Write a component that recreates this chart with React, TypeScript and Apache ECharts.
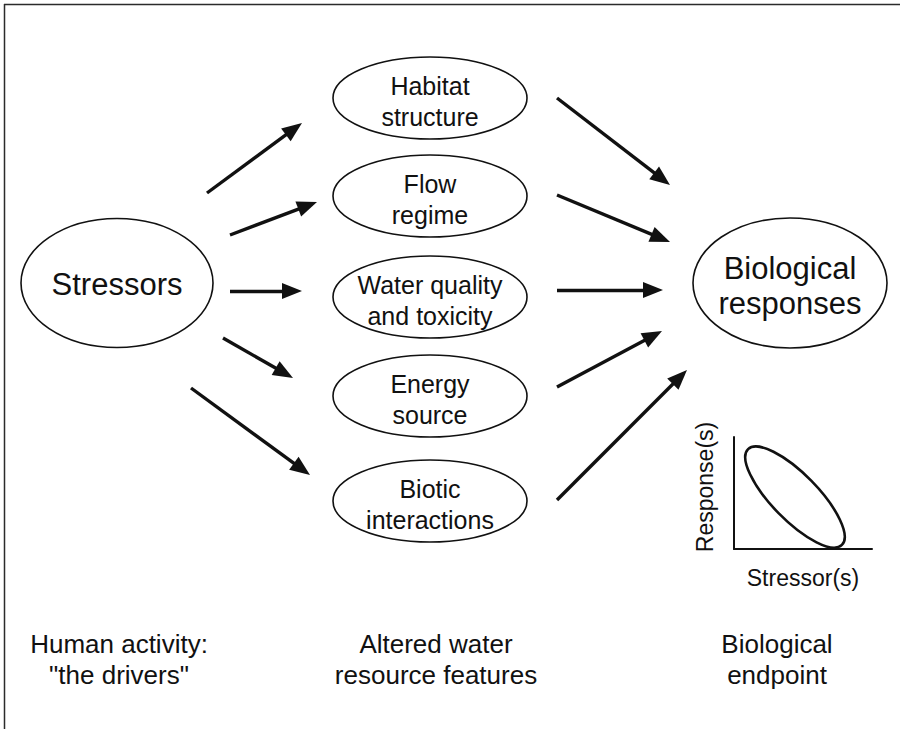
import React, { useEffect, useRef } from 'react';
import * as echarts from 'echarts';

// ---- diagram content ----
const driverNode = 'Stressors';
const driverAt = [117, 283];

const featureNodes = [
  'Habitat\nstructure',
  'Flow\nregime',
  'Water quality\nand toxicity',
  'Energy\nsource',
  'Biotic\ninteractions',
];
const featureColumn = 430;
const featureRows = [98, 196, 297, 396, 501];

const endpointNode = 'Biological\nresponses';
const endpointAt = [790, 283];

const driverArrowTails = [[207, 193], [230, 235], [230, 291], [223, 338], [191, 388]];
const driverArrowTips = [[302, 123], [317, 202], [302, 291], [293, 378], [310, 475]];
const responseArrowTails = [[557, 98], [557, 195], [557, 290], [557, 387], [557, 500]];
const responseArrowTips = [[670, 185], [670, 242], [663, 290], [662, 331], [687, 370]];

const stageLabels = ['Human activity:\n"the drivers"', 'Altered water\nresource features', 'Biological\nendpoint'];
const stageColumns = [119, 436, 777];
const stageRow = 659;

const insetXName = 'Stressor(s)';
const insetYName = 'Response(s)';
const insetEnvelope = [4.42, 4.64];

// ---- styles ----
const FONT = '"Liberation Sans", Arial, Helvetica, sans-serif';
const INK = '#111111';
const HEAD_W = 16;
const HEAD_L = 20;

function arrowData(tails: number[][], tips: number[][]) {
  return tails.map((t, i) => {
    const tip = tips[i];
    const dx = tip[0] - t[0];
    const dy = tip[1] - t[1];
    const len = Math.sqrt(dx * dx + dy * dy);
    const end = [tip[0] - (dx / len) * (HEAD_L / 2), tip[1] - (dy / len) * (HEAD_L / 2)];
    return { coords: [t, end] };
  });
}

function nodeSeries(name: string, labels: string[], points: number[][], rx: number, ry: number, fontSize: number, lineHeight: number, dy: number) {
  return {
    type: 'custom',
    name,
    coordinateSystem: 'cartesian2d',
    xAxisIndex: 0,
    yAxisIndex: 0,
    data: points,
    silent: true,
    renderItem: (params: any, api: any) => {
      const p = api.coord([api.value(0), api.value(1)]);
      return {
        type: 'group',
        children: [
          {
            type: 'ellipse',
            shape: { cx: p[0], cy: p[1], rx, ry },
            style: { fill: '#ffffff', stroke: INK, lineWidth: 1.6 },
          },
          {
            type: 'text',
            x: p[0],
            y: p[1] + dy,
            style: {
              text: labels[params.dataIndex],
              fontSize,
              lineHeight,
              fontFamily: FONT,
              fill: INK,
              align: 'center',
              verticalAlign: 'middle',
            },
          },
        ],
      };
    },
  };
}

function arrowSeries(name: string, data: any[]) {
  return {
    type: 'lines',
    name,
    coordinateSystem: 'cartesian2d',
    xAxisIndex: 0,
    yAxisIndex: 0,
    silent: true,
    symbol: ['none', 'triangle'],
    symbolSize: [[HEAD_W, HEAD_L], [HEAD_W, HEAD_L]],
    lineStyle: { color: INK, width: 3.4, opacity: 1, curveness: 0 },
    itemStyle: { color: INK },
    data,
  };
}

export default function App() {
  const ref = useRef<HTMLDivElement>(null);

  useEffect(() => {
    if (!ref.current) return;
    const chart = echarts.init(ref.current, null, { renderer: 'svg' });
    const hiddenAxis = {
      show: false,
      splitLine: { show: false },
      axisLine: { show: false },
      axisTick: { show: false },
      axisLabel: { show: false },
    };
    const option: any = {
      animation: false,
      backgroundColor: '#ffffff',
      grid: [
        { left: 0, top: 0, right: 0, bottom: 0 },
        { left: 734, top: 437, width: 138, height: 112 },
      ],
      xAxis: [
        { type: 'value', min: 0, max: 900, gridIndex: 0, ...hiddenAxis },
        {
          type: 'value', min: 0, max: 10, gridIndex: 1,
          axisLine: { show: true, onZero: false, lineStyle: { color: INK, width: 2 } },
          axisTick: { show: false },
          axisLabel: { show: false },
          splitLine: { show: false },
          name: insetXName,
          nameLocation: 'middle',
          nameGap: 17,
          nameTextStyle: { fontSize: 23, color: INK, fontFamily: FONT, verticalAlign: 'top' },
        },
      ],
      yAxis: [
        { type: 'value', min: 0, max: 729, inverse: true, gridIndex: 0, ...hiddenAxis },
        {
          type: 'value', min: 0, max: 10, gridIndex: 1,
          axisLine: { show: true, onZero: false, lineStyle: { color: INK, width: 2 } },
          axisTick: { show: false },
          axisLabel: { show: false },
          splitLine: { show: false },
          name: insetYName,
          nameLocation: 'middle',
          nameGap: 18,
          nameTextStyle: { fontSize: 23, color: INK, fontFamily: FONT, padding: [0, 0, 0, 12] },
        },
      ],
      graphic: [
        { type: 'line', shape: { x1: 4, y1: 4.5, x2: 900, y2: 4.5 }, style: { stroke: '#2b2b2b', lineWidth: 1.5 } },
        { type: 'line', shape: { x1: 4.5, y1: 4, x2: 4.5, y2: 729 }, style: { stroke: '#2b2b2b', lineWidth: 1.5 } },
      ],
      series: [
        arrowSeries('driver arrows', arrowData(driverArrowTails, driverArrowTips)),
        arrowSeries('response arrows', arrowData(responseArrowTails, responseArrowTips)),
        nodeSeries('driver', [driverNode], [driverAt], 96, 64.5, 31, 36, 1),
        nodeSeries('features', featureNodes, featureRows.map((y) => [featureColumn, y]), 97, 41, 25, 31, 3),
        nodeSeries('endpoint', [endpointNode], [endpointAt], 97, 65, 31, 35, 3),
        {
          type: 'custom',
          name: 'stages',
          coordinateSystem: 'cartesian2d',
          xAxisIndex: 0,
          yAxisIndex: 0,
          silent: true,
          data: stageColumns.map((x) => [x, stageRow]),
          renderItem: (params: any, api: any) => {
            const p = api.coord([api.value(0), api.value(1)]);
            return {
              type: 'text',
              x: p[0],
              y: p[1],
              style: {
                text: stageLabels[params.dataIndex],
                fontSize: 26,
                lineHeight: 31,
                fontFamily: FONT,
                fill: INK,
                align: 'center',
                verticalAlign: 'middle',
              },
            };
          },
        },
        {
          type: 'custom',
          name: 'inset envelope',
          coordinateSystem: 'cartesian2d',
          xAxisIndex: 1,
          yAxisIndex: 1,
          silent: true,
          clip: false,
          data: [insetEnvelope],
          renderItem: (params: any, api: any) => {
            const p = api.coord([api.value(0), api.value(1)]);
            return {
              type: 'ellipse',
              x: p[0],
              y: p[1],
              rotation: -0.796,
              shape: { cx: 0, cy: 0, rx: 67, ry: 23 },
              style: { fill: 'none', stroke: INK, lineWidth: 2.6 },
            };
          },
        },
      ],
    };
    chart.setOption(option);
    return () => chart.dispose();
  }, []);

  return (
    <div
      ref={ref}
      style={{ position: 'absolute', left: 0, top: 0, width: 900, height: 729 }}
    />
  );
}
